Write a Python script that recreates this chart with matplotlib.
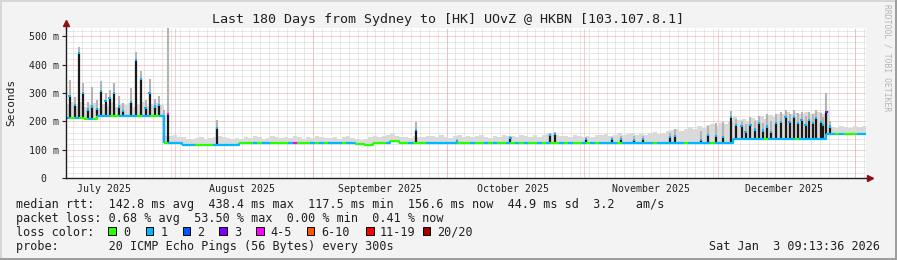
import numpy as np
import pandas as pd
import matplotlib
matplotlib.use("Agg")
import matplotlib.pyplot as plt
from matplotlib.collections import LineCollection
from matplotlib.patches import Rectangle

# time frame: 180 days ending Sat Jan 3 09:13:36 2026
start = pd.Timestamp("2025-07-07 09:13:36")
n_days = 180

# median rtt in ms, as steps: first day of the step and its value
med_start = [0, 4, 7, 22, 26, 39, 65, 67, 69, 73, 75, 150, 171]
med_value = [213, 209, 220, 123, 118, 125, 120, 116, 125, 130, 123, 138, 157]

# top of the light smoke for every day (ms)
smoke_top = [262, 270, 255, 268, 250, 258, 265, 248, 260, 256, 270, 252, 262, 258, 266, 250, 262, 270, 255, 260, 265, 258,
             150, 148, 152,
             146, 144, 140, 138, 142, 145, 140, 143, 147, 150, 144, 141, 139, 143,
             140, 146, 142, 148, 144, 139, 143, 150, 145, 141, 147, 143, 149, 144, 140, 146, 142, 148, 145, 141,
             143, 147, 140, 145, 150, 142, 138, 136, 140, 146, 150, 144, 148, 152, 155, 150, 145, 147, 143, 149, 146,
             144, 148, 150, 146, 152, 147, 143, 149, 153, 146, 150, 145, 148, 152, 147, 143, 150, 146, 151, 148,
             150, 146, 152, 148, 145, 151, 147, 153, 155, 157, 152, 148, 150, 146, 152, 149, 145, 150, 147, 151,
             152, 156, 150, 154, 158, 152, 155, 160, 154, 157, 152, 158, 162, 156, 160, 165,
             170, 175, 168, 172, 180, 175, 185, 178, 188, 192, 185, 195, 190, 198,
             215, 205, 210, 200, 212, 205, 218, 210, 222, 215, 225, 228, 232, 225, 230, 228, 232, 226, 230, 235, 228, 240,
             182, 178, 184, 180, 176, 183, 179, 185]

# packet loss class for every day (key into loss_colors)
loss_day = ("1010010111001111011001" "011" "11110000111111"
            "000101100001" "4" "0001010"
            "111011000000010000100" "01111111000100101001" "01010010100101001010"
            "1111011111110111" "11101111101111" "1111111011111101111111" "10100011")

# dense smoke spikes: day, top of dark part, top of grey part (ms), loss class at the top
spike_day = [0.8, 2.0, 2.9, 3.8, 5.0, 5.9, 7.0, 7.9, 8.9, 9.8, 10.8, 11.9, 12.8, 14.7, 15.8, 16.8, 17.9, 18.8,
             20.0, 20.9, 22.1, 22.9,
             34.0, 78.8, 88.0, 100.0, 108.9, 110.0, 117.0,
             122.9, 124.9, 127.8, 129.8, 135.9, 137.0, 142.9, 144.5, 146.3, 147.8,
             149.7, 150.8, 152.0, 152.9, 154.0, 155.0, 155.9, 156.8, 157.8, 158.7, 159.8, 160.8, 161.9, 162.8,
             163.8, 164.7, 165.5, 166.4, 167.2, 168.1, 168.8, 169.8, 170.3, 171.1, 171.9]
spike_black = [289, 259, 441, 300, 242, 253, 244, 306, 271, 283, 300, 253, 238, 269, 415, 350, 248, 300,
               253, 257, 220, 226,
               176, 169, 130, 141, 152, 155, 137,
               137, 137, 135, 137, 145, 149, 135, 152, 150, 145,
               217, 188, 184, 164, 188, 172, 194, 168, 182, 164, 194, 199, 217, 199,
               217, 194, 205, 188, 205, 194, 211, 199, 188, 234, 182]
spike_gray = [347, 285, 461, 335, 270, 320, 275, 341, 300, 312, 336, 290, 265, 318, 445, 377, 275, 351,
              280, 289, 240, 560,
              205, 197, 140, 150, 160, 162, 145,
              145, 148, 150, 150, 160, 175, 165, 185, 195, 199,
              238, 210, 200, 190, 215, 200, 220, 195, 225, 200, 228, 235, 240, 225,
              240, 230, 235, 220, 235, 225, 240, 230, 215, 300, 200]
spike_loss = ("111111111111111111111" "4"
              "1111111"
              "1111111111"
              "11111111111111" "111111111" "31")

loss_colors = {"0": "#26ff00", "1": "#00b8ff", "2": "#0059ff", "3": "#7e00ff",
               "4": "#ff00ff", "6": "#ff5500", "b": "#ff0000", "k": "#a00000"}
legend_labels = ["0", "1", "2", "3", "4-5", "6-10", "11-19", "20/20"]
legend_keys = ["0", "1", "2", "3", "4", "6", "b", "k"]

stats_line = "median rtt:  142.8 ms avg  438.4 ms max  117.5 ms min  156.6 ms now  44.9 ms sd  3.2   am/s"
loss_line = "packet loss: 0.68 % avg  53.50 % max  0.00 % min  0.41 % now"
probe_line = "probe:       20 ICMP Echo Pings (56 Bytes) every 300s"
title = "Last 180 Days from Sydney to [HK] UOvZ @ HKBN [103.107.8.1]"
stamp = "Sat Jan  3 09:13:36 2026"

months = ["2025-07", "2025-08", "2025-09", "2025-10", "2025-11", "2025-12", "2026-01"]
month_names = ["July 2025", "August 2025", "September 2025", "October 2025", "November 2025", "December 2025"]

W, H = 897, 260
mono = "DejaVu Sans Mono"
plt.rcParams["font.family"] = mono

def dayoff(ts):
    return (pd.Timestamp(ts) - start) / pd.Timedelta(days=1)

fig = plt.figure(figsize=(W / 100, H / 100), dpi=100, facecolor="#f3f3f3")
ax = fig.add_axes([66 / W, 1 - 178.3 / H, 800 / W, 150.3 / H], facecolor="white")
ymax = 529
ax.set_xlim(0, n_days)
ax.set_ylim(0, ymax)

# grid
minor_c = "#d2d2d2"
major_c = "#f2a0a0"
dots = (0, (1, 1))
for v in range(20, ymax, 20):
    if v % 100:
        ax.axhline(v, color=minor_c, lw=0.72, ls=dots, zorder=0)
for d in np.arange(dayoff("2025-07-09"), n_days, 2):
    ax.axvline(d, color=minor_c, lw=0.72, ls=dots, zorder=0)
for v in range(100, ymax, 100):
    ax.axhline(v, color=major_c, lw=0.72, ls=dots, zorder=0.5)
for m in months[1:]:
    ax.axvline(dayoff(m + "-01"), color=major_c, lw=0.72, ls=dots, zorder=0.5)

days = np.arange(n_days)
idx = np.searchsorted(med_start, days, side="right") - 1
med = np.array(med_value, dtype=float)[idx]
top = np.array(smoke_top, dtype=float)

# light smoke
ax.bar(days, top - med, bottom=med, width=1.0, align="edge", color="#dadada", lw=0, zorder=1)

# dense smoke spikes
sd = np.array(spike_day)
base = med[sd.astype(int)]
ax.vlines(sd, spike_black, spike_gray, color="#b4b4b4", lw=1.5, zorder=2)
ax.vlines(sd, base, spike_black, color="#1a1a1a", lw=1.6, zorder=3)

# median line coloured by loss
segs = []
cols = []
for i in days:
    nxt = med[i + 1] if i + 1 < n_days else med[i]
    segs.append([(i, med[i]), (i + 1, med[i]), (i + 1, nxt)])
    cols.append(loss_colors[loss_day[i]])
ax.add_collection(LineCollection(segs, colors=cols, linewidths=1.6, capstyle="butt", zorder=4))
ax.scatter(sd, spike_black, marker="s", s=2.5, lw=0, zorder=5,
           c=[loss_colors[k] for k in spike_loss])

# axes
for s in ["top", "right"]:
    ax.spines[s].set_visible(False)
for s in ["left", "bottom"]:
    ax.spines[s].set_color("#202020")
    ax.spines[s].set_linewidth(1.0)
    ax.spines[s].set_zorder(6)
ax.plot([1.0055], [0], marker=">", ms=5, color="#8b1010", transform=ax.transAxes, clip_on=False, zorder=7)
ax.plot([0], [1.03], marker="^", ms=5, color="#8b1010", transform=ax.transAxes, clip_on=False, zorder=7)
ax.plot([0, 0], [1.0, 1.03], color="#202020", lw=1.0, transform=ax.transAxes, clip_on=False, zorder=6)

ax.set_yticks(range(0, 501, 100))
ax.set_yticklabels(["0\u00a0\u00a0"] + ["%d m" % v for v in range(100, 501, 100)])
ax.tick_params(axis="y", length=3, width=0.8, pad=2, labelsize=7.1, colors="#202020")
ax.set_xticks([dayoff(m + "-16") for m in months[:-1]])
ax.set_xticklabels(month_names)
ax.tick_params(axis="x", length=0, pad=4, labelsize=7.1, colors="#202020")

# texts
fig.text(448 / W, 1 - 19 / H, title, ha="center", va="center", fontsize=9.6, color="#202020")
fig.text(11 / W, 1 - 102.5 / H, "Seconds", rotation=90, ha="center", va="center", fontsize=8, color="#202020")
fig.text(887 / W, 1 - 58 / H, "RRDTOOL / TOBI OETIKER", rotation=270, ha="center", va="center",
         fontsize=5.8, color="#b5b5b5")
fig.text(16 / W, 1 - 204.3 / H, stats_line, va="center", fontsize=8.5, color="#202020")
fig.text(16 / W, 1 - 218.3 / H, loss_line, va="center", fontsize=8.5, color="#202020")
fig.text(16 / W, 1 - 232.3 / H, "loss color:", va="center", fontsize=8.5, color="#202020")
fig.text(16 / W, 1 - 246.3 / H, probe_line, va="center", fontsize=8.5, color="#202020")
fig.text(880 / W, 1 - 246.3 / H, stamp, ha="right", va="center", fontsize=8.5, color="#202020")

box_x = [108.3, 145.7, 182.7, 219.3, 256, 306.7, 366, 422.7]
lab_x = [123.3, 160.7, 197.3, 234.3, 270.7, 321.7, 380, 436.7]
for bx, lx, k, lab in zip(box_x, lab_x, legend_keys, legend_labels):
    fig.patches.append(Rectangle((bx / W, 1 - 234.5 / H), 7.5 / W, 7.6 / H, transform=fig.transFigure,
                                 facecolor=loss_colors[k], edgecolor="black", lw=0.7))
    fig.text(lx / W, 1 - 232.3 / H, lab, va="center", fontsize=8.5, color="#202020")

# frame
fig.patches.append(Rectangle((0, 0), 2 / W, 1, transform=fig.transFigure, color="#d6d6d6", lw=0))
fig.patches.append(Rectangle((0, 1 - 2 / H), 1, 2 / H, transform=fig.transFigure, color="#d6d6d6", lw=0))
fig.patches.append(Rectangle((0, 0), 1, 2 / H, transform=fig.transFigure, color="#9e9e9e", lw=0))
fig.patches.append(Rectangle((1 - 2 / W, 0), 2 / W, 1, transform=fig.transFigure, color="#9e9e9e", lw=0))

fig.savefig("out.png", dpi=100, facecolor=fig.get_facecolor())
